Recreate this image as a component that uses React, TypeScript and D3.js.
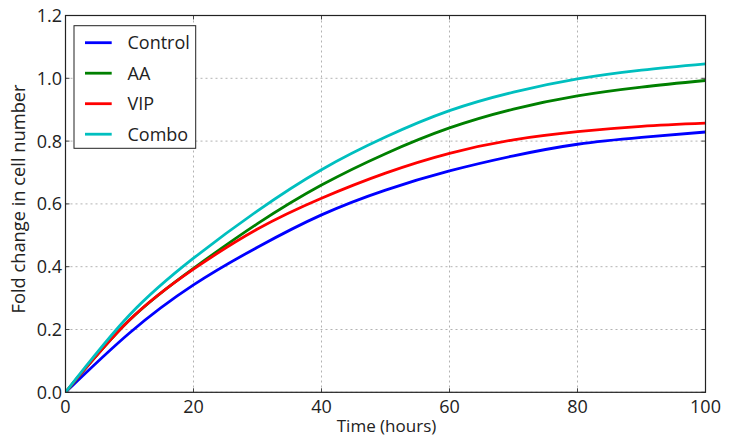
import React from "react";
import * as d3 from "d3";

const hours = [0, 10, 20, 30, 40, 50, 60, 70, 80, 90, 100];
const controlValues = [0, 0.189, 0.342, 0.462, 0.565, 0.644, 0.705, 0.753, 0.79, 0.812, 0.829];
const aaValues = [0, 0.23, 0.395, 0.537, 0.66, 0.76, 0.842, 0.902, 0.944, 0.972, 0.993];
const vipValues = [0, 0.23, 0.392, 0.52, 0.618, 0.698, 0.761, 0.804, 0.83, 0.847, 0.857];
const comboValues = [0, 0.246, 0.427, 0.578, 0.709, 0.813, 0.897, 0.956, 0.998, 1.026, 1.046];
const seriesNames = ["Control", "AA", "VIP", "Combo"];
const seriesColors = ["#0000ff", "#008000", "#ff0000", "#00bfbf"];
const xTicks = [0, 20, 40, 60, 80, 100];
const yTicks = [0, 0.2, 0.4, 0.6, 0.8, 1.0, 1.2];

const W = 735;
const H = 441;
const L = 65.5, R = 705.5, T = 15.5, B = 392.3;
const FONT = "'Open Sans', sans-serif";

export default function App() {
  const x = d3.scaleLinear().domain([0, 100]).range([L, R]);
  const y = d3.scaleLinear().domain([0, 1.2]).range([B, T]);
  const allSeries = [controlValues, aaValues, vipValues, comboValues];
  const line = d3
    .line<number>()
    .x((_, i) => x(hours[i]))
    .y((d) => y(d))
    .curve(d3.curveNatural);

  return (
    <svg
      width={W}
      height={H}
      style={{ position: "absolute", left: 0, top: 0, background: "#fff" }}
    >
      <rect x={0} y={0} width={W} height={H} fill="#fff" />
      <defs>
        <clipPath id="plot">
          <rect x={L} y={T} width={R - L} height={B - T} />
        </clipPath>
      </defs>
      {/* grid */}
      {xTicks.map((t) => (
        <line key={"gx" + t} x1={x(t)} x2={x(t)} y1={T} y2={B} stroke="#b3b3b3" strokeWidth={1} strokeDasharray="2,3" />
      ))}
      {yTicks.map((t) => (
        <line key={"gy" + t} x1={L} x2={R} y1={y(t)} y2={y(t)} stroke="#b3b3b3" strokeWidth={1} strokeDasharray="2,3" />
      ))}
      {/* ticks inside */}
      {xTicks.map((t) => (
        <g key={"tx" + t} stroke="#444" strokeWidth={1}>
          <line x1={x(t)} x2={x(t)} y1={B} y2={B - 4} />
          <line x1={x(t)} x2={x(t)} y1={T} y2={T + 4} />
        </g>
      ))}
      {yTicks.map((t) => (
        <g key={"ty" + t} stroke="#444" strokeWidth={1}>
          <line x1={L} x2={L + 4} y1={y(t)} y2={y(t)} />
          <line x1={R} x2={R - 4} y1={y(t)} y2={y(t)} />
        </g>
      ))}
      {/* lines */}
      <g clipPath="url(#plot)">
        {allSeries.map((s, i) => (
          <path key={seriesNames[i]} d={line(s) || ""} fill="none" stroke={seriesColors[i]} strokeWidth={2.8} />
        ))}
      </g>
      {/* frame */}
      <rect x={L} y={T} width={R - L} height={B - T} fill="none" stroke="#222" strokeWidth={1.2} />
      {/* tick labels */}
      {xTicks.map((t) => (
        <text key={"lx" + t} x={x(t)} y={412.5} textAnchor="middle" fontFamily={FONT} fontSize={18} fill="#222">
          {t}
        </text>
      ))}
      {yTicks.map((t) => (
        <text key={"ly" + t} x={62} y={y(t)} dy="0.36em" textAnchor="end" fontFamily={FONT} fontSize={18} fill="#222">
          {t.toFixed(1)}
        </text>
      ))}
      {/* axis labels */}
      <text x={386.5} y={432} textAnchor="middle" fontFamily={FONT} fontSize={17} fill="#222">
        Time (hours)
      </text>
      <text
        transform={`translate(24.5, 199) rotate(-90)`}
        textAnchor="middle"
        fontFamily={FONT}
        fontSize={18.3}
        fill="#222"
      >
        Fold change in cell number
      </text>
      {/* legend */}
      <rect x={74} y={25.7} width={121.7} height={122.6} fill="#fff" stroke="#222" strokeWidth={1} />
      {seriesNames.map((n, i) => {
        const ly = 42.7 + i * 30.5;
        return (
          <g key={"leg" + n}>
            <line x1={85} x2={111.7} y1={ly} y2={ly} stroke={seriesColors[i]} strokeWidth={2.8} />
            <text x={127.5} y={ly} dy="0.36em" fontFamily={FONT} fontSize={18} fill="#222">
              {n}
            </text>
          </g>
        );
      })}
    </svg>
  );
}
